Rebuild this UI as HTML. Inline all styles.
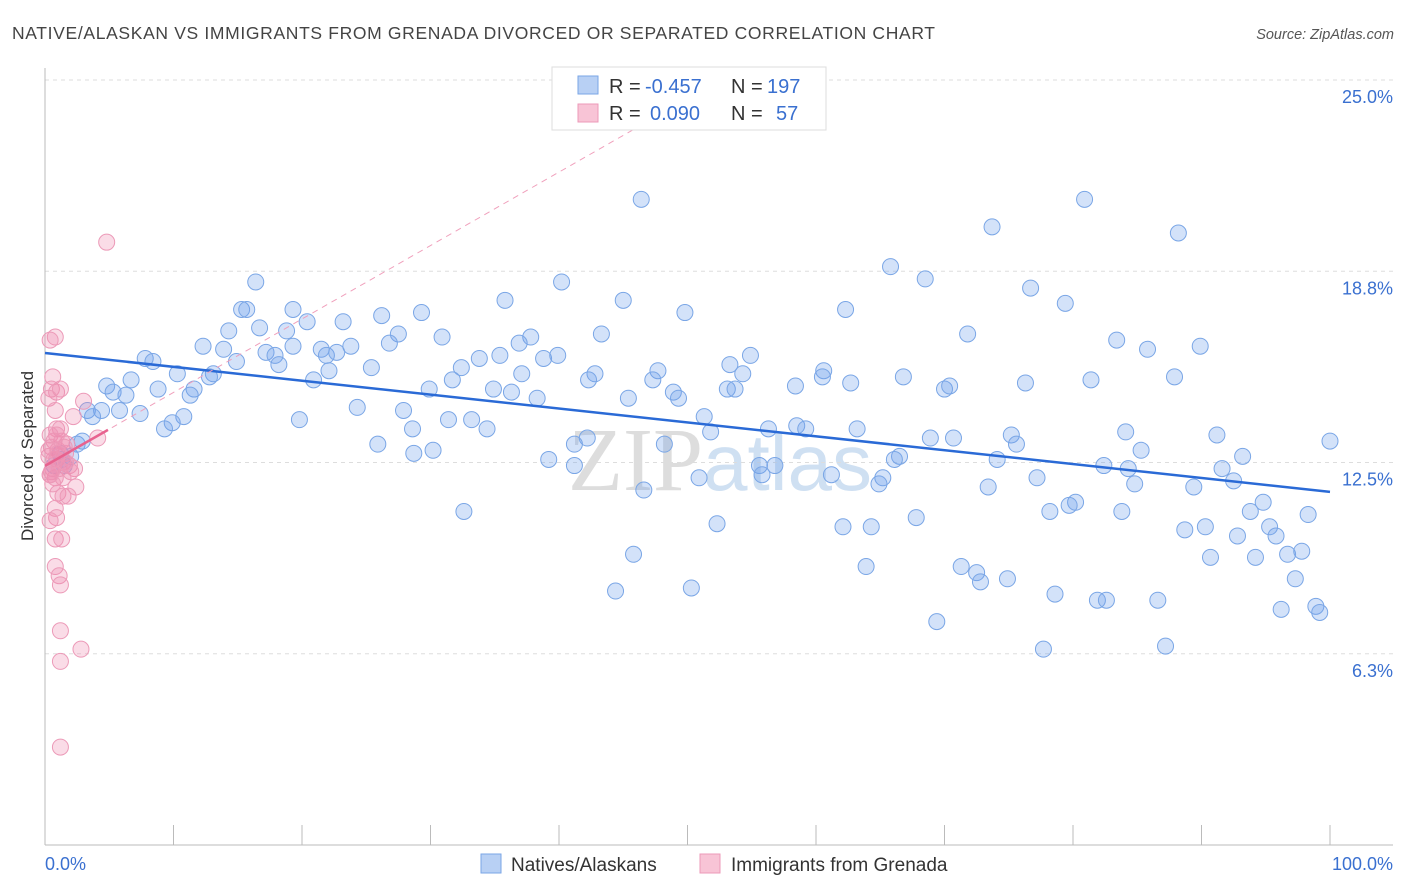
<!DOCTYPE html>
<html><head><meta charset="utf-8"><style>
body{margin:0;background:#fff;font-family:"Liberation Sans",sans-serif}
#wrap{position:relative;width:1406px;height:892px;overflow:hidden}
</style></head><body>
<div id="wrap">
<svg id="svg" width="1406" height="892" xmlns="http://www.w3.org/2000/svg">
<text x="12" y="39" font-size="17.5" fill="#444" textLength="923" lengthAdjust="spacing">NATIVE/ALASKAN VS IMMIGRANTS FROM GRENADA DIVORCED OR SEPARATED CORRELATION CHART</text>
<text x="1394" y="39" font-size="14.5" fill="#555" font-style="italic" text-anchor="end">Source: ZipAtlas.com</text>
<text transform="translate(33,456) rotate(-90)" font-size="17" fill="#333" text-anchor="middle">Divorced or Separated</text>
<text x="720" y="490" font-size="90" fill="#ddd" text-anchor="middle" font-family="Liberation Serif,serif">ZIP<tspan font-family="Liberation Sans,sans-serif" fill="#cfe0f2" font-size="80">atlas</tspan></text>
<g id="grid"></g><g id="axes"></g><g id="pts"></g><g id="trend"></g>
<g>
<rect x="552" y="67" width="274" height="63" fill="#fff" stroke="#ddd"/>
<rect x="578" y="76" width="20" height="18" fill="#b8d0f4" stroke="#7aa6e6"/>
<rect x="578" y="104" width="20" height="18" fill="#f8c4d6" stroke="#ec9ab8"/>
<g font-size="20">
<text x="609" y="93" fill="#333">R =</text><text x="645" y="93" fill="#3a70d0">-0.457</text>
<text x="731" y="93" fill="#333">N =</text><text x="767" y="93" fill="#3a70d0">197</text></g>
<g font-size="20">
<text x="609" y="120" fill="#333">R =</text><text x="650" y="120" fill="#3a70d0">0.090</text>
<text x="731" y="120" fill="#333">N =</text><text x="776" y="120" fill="#3a70d0">57</text></g>
</g>
<g>
<rect x="481" y="854" width="20" height="19" fill="#b8d0f4" stroke="#7aa6e6"/>
<text x="511" y="871" font-size="19" fill="#333">Natives/Alaskans</text>
<rect x="700" y="854" width="20" height="19" fill="#f8c4d6" stroke="#ec9ab8"/>
<text x="731" y="871" font-size="19" fill="#333">Immigrants from Grenada</text>
</g>
</svg>
</div>
<script>
const yTicks=[25.0,18.8,12.5,6.3];
const yTickVals=[25,18.75,12.5,6.25];
const xTickLabels=["0.0%","100.0%"];
const blueX=[46.4,80.9,73.7,88.2,65.8,68.5,16.4,40.2,76.7,35.8,45.0,79.4,15.3,15.7,19.3,29.3,49.8,62.3,20.4,23.2,26.2,16.7,14.3,18.8,27.5,30.9,37.8,43.3,71.8,83.4,12.3,13.9,19.3,21.5,23.8,26.8,36.9,85.8,89.9,17.2,17.9,21.9,22.7,35.4,38.8,39.9,54.9,7.8,8.4,14.9,18.2,53.3,10.3,13.1,12.8,22.1,25.4,32.4,33.8,37.1,42.8,47.7,54.3,60.6,60.5,66.8,87.9,81.4,6.7,4.8,8.8,11.6,20.9,31.7,42.3,47.3,62.7,58.4,76.3,53.1,53.7,70.0,70.4,29.9,34.9,36.3,38.3,45.4,48.9,49.3,5.3,6.3,11.3,3.3,4.4,5.8,7.4,24.3,27.9,3.7,10.8,19.8,31.4,33.2,51.3,9.9,9.3,28.6,34.4,51.8,56.3,58.5,59.2,63.2,75.2,84.1,91.2,100,42.2,68.9,70.7,75.6,25.9,30.2,48.2,41.2,2.5,2.9,28.7,85.3,66.5,1.2,2.0,66.1,39.2,74.1,93.2,1.3,0.7,41.2,55.6,56.8,82.4,84.3,91.6,55.8,61.2,77.2,50.9,65.2,92.5,64.9,84.8,46.6,73.4,89.4,80.2,79.7,94.8,32.6,78.2,83.8,93.8,67.8,98.3,52.3,62.1,64.3,90.3,95.3,88.7,92.8,95.8,45.8,90.7,94.2,96.7,97.8,63.9,71.3,72.5,72.8,74.9,97.3,44.4,50.3,78.6,81.9,82.6,86.6,96.2,98.9,99.2,69.4,77.7,87.2,1.5];
const blueY=[21.1,21.1,20.2,20.0,18.9,18.5,18.4,18.4,18.2,17.8,17.8,17.7,17.5,17.5,17.5,17.4,17.4,17.5,17.1,17.1,17.3,16.9,16.8,16.8,16.7,16.6,16.6,16.7,16.7,16.5,16.3,16.2,16.3,16.2,16.3,16.4,16.4,16.2,16.3,16.1,16.0,16.0,16.1,16.0,15.9,16.0,16.0,15.9,15.8,15.8,15.7,15.7,15.4,15.4,15.3,15.5,15.6,15.6,15.9,15.4,15.4,15.5,15.4,15.5,15.3,15.3,15.3,15.2,15.2,15.0,14.9,14.9,15.2,15.2,15.2,15.2,15.1,15.0,15.1,14.9,14.9,14.9,15.0,14.9,14.9,14.8,14.6,14.6,14.8,14.6,14.8,14.7,14.7,14.2,14.2,14.2,14.1,14.3,14.2,14.0,14.0,13.9,13.9,13.9,14.0,13.8,13.6,13.6,13.6,13.5,13.6,13.7,13.6,13.6,13.4,13.5,13.4,13.2,13.3,13.3,13.3,13.1,13.1,12.9,13.1,13.1,13.1,13.2,12.8,12.9,12.7,12.8,12.7,12.6,12.6,12.6,12.7,12.6,12.4,12.4,12.4,12.4,12.4,12.3,12.3,12.1,12.1,12.0,12.0,12.0,11.9,11.8,11.8,11.6,11.7,11.7,11.2,11.1,11.2,10.9,10.9,10.9,10.9,10.7,10.8,10.5,10.4,10.4,10.4,10.4,10.3,10.1,10.1,9.5,9.4,9.4,9.5,9.6,9.1,9.1,8.9,8.6,8.7,8.7,8.3,8.4,8.2,8.0,8.0,8.0,7.7,7.8,7.6,7.3,6.4,6.5,12.4];
const pinkX=[4.8,0.8,0.4,0.6,0.5,0.9,1.2,0.3,3.0,0.8,2.2,0.9,1.2,0.4,4.1,0.7,1.3,1.7,0.5,1.0,1.6,0.3,0.9,1.4,1.9,2.3,0.6,0.8,0.4,1.4,2.4,1.0,1.4,1.8,0.8,0.9,0.4,0.8,1.3,0.8,1.1,1.2,1.2,1.2,2.8,1.2,0.5,1.1,0.7,1.5,0.3,2.0,0.6,1.0,0.9,1.6,0.4];
const pinkY=[19.7,16.6,16.5,15.3,14.9,14.8,14.9,14.6,14.5,14.2,14.0,13.6,13.6,13.4,13.3,13.2,13.2,13.1,13.0,12.9,12.8,12.7,12.6,12.5,12.4,12.3,12.3,12.0,12.1,12.0,11.7,11.5,11.4,11.4,11.0,10.7,10.6,10.0,10.0,9.1,8.8,8.5,7.0,6.0,6.4,3.2,12.2,12.3,12.6,13.0,12.9,12.2,11.8,12.8,13.4,12.5,12.1];
const blueTrend=[16.08,11.54];
const pinkTrend=[12.39,0.24];
const X0=45,X1=1330,YB=845,YS=30.6;
const sx=v=>X0+(X1-X0)*v/100, sy=v=>YB-YS*v;
const NS="http://www.w3.org/2000/svg";
function mk(t,a,p){const e=document.createElementNS(NS,t);for(const k in a)e.setAttribute(k,a[k]);p.appendChild(e);return e;}
const grid=document.getElementById('grid'),axes=document.getElementById('axes'),pts=document.getElementById('pts'),tr=document.getElementById('trend');
yTickVals.forEach((v,i)=>{
 const l=mk('line',{x1:45,x2:1393,y1:sy(v),y2:sy(v),stroke:'#ddd','stroke-dasharray':'4,4'},grid);
 
 
 const t=mk('text',{x:1393,y:sy(v)+23,'font-size':18,fill:'#3a70d0','text-anchor':'end'},axes);
 t.textContent=yTicks[i].toFixed(1)+'%';
 
 
});
const ax=mk('line',{x1:45,x2:45,y1:68,y2:845,stroke:'#bbb'},axes);


const bx=mk('line',{x1:45,x2:1393,y1:845,y2:845,stroke:'#bbb'},axes);


for(let i=0;i<=10;i++){const t=mk('line',{x1:sx(i*10),x2:sx(i*10),y1:825,y2:845,stroke:'#bbb'},axes);
 
 }
const xl0=mk('text',{x:45,y:870,'font-size':18,fill:'#3a70d0'},axes);xl0.textContent=xTickLabels[0];


const xl1=mk('text',{x:1393,y:870,'font-size':18,fill:'#3a70d0','text-anchor':'end'},axes);xl1.textContent=xTickLabels[1];


blueX.forEach((x,i)=>{const c=mk('circle',{cx:sx(x),cy:sy(blueY[i]),r:8,fill:'rgba(110,160,235,0.3)',stroke:'#7aa6e6','stroke-width':1},pts);
 
 });
pinkX.forEach((x,i)=>{const c=mk('circle',{cx:sx(x),cy:sy(pinkY[i]),r:8,fill:'rgba(240,140,175,0.3)',stroke:'#ec9ab8','stroke-width':1},pts);
 
 });
const bl=mk('line',{x1:sx(0),y1:sy(blueTrend[0]),x2:sx(100),y2:sy(blueTrend[1]),stroke:'#2a6ad6','stroke-width':2.5},tr);


const pd=mk('line',{x1:sx(0),y1:sy(pinkTrend[0]),x2:sx(46),y2:sy(pinkTrend[0]+pinkTrend[1]*46),stroke:'#f0a0bc','stroke-width':1,'stroke-dasharray':'6,5'},tr);


const ps=mk('line',{x1:sx(0),y1:sy(pinkTrend[0]),x2:sx(4.9),y2:sy(pinkTrend[0]+pinkTrend[1]*4.9),stroke:'#e8628f','stroke-width':2.5},tr);


</script>
</body></html>
